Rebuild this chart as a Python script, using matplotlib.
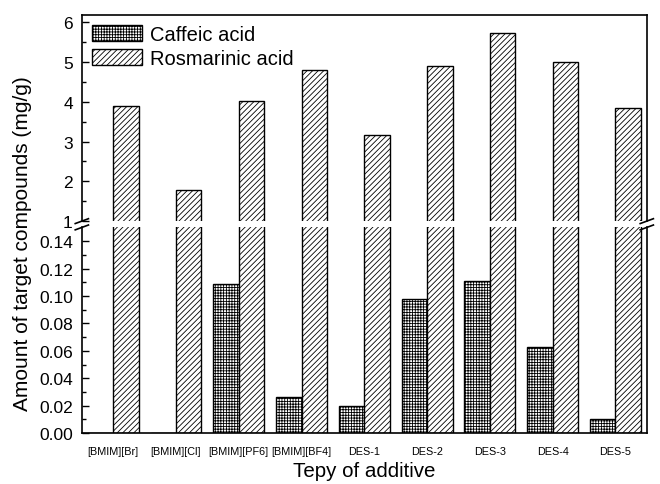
import numpy as np
import matplotlib
matplotlib.use("Agg")
import matplotlib.pyplot as plt
from matplotlib.patches import Patch
from matplotlib.lines import Line2D

plt.rcParams["font.family"] = ["Liberation Sans", "DejaVu Sans"]
plt.rcParams["hatch.linewidth"] = 0.6

additives = ["[BMIM][Br]", "[BMIM][Cl]", "[BMIM][PF6]", "[BMIM][BF4]",
             "DES-1", "DES-2", "DES-3", "DES-4", "DES-5"]
caffeic = [0.0, 0.0, 0.109, 0.0265, 0.020, 0.098, 0.111, 0.0625, 0.0102]
rosmarinic = [3.89, 1.78, 4.01, 4.79, 3.16, 4.89, 5.72, 5.0, 3.84]

x = np.arange(len(additives))
w = 0.405

fig = plt.figure(figsize=(6.6, 4.85), dpi=100)
ax_top = fig.add_axes([0.124, 0.542, 0.856, 0.425])
ax_bot = fig.add_axes([0.124, 0.105, 0.856, 0.424])

for ax in (ax_top, ax_bot):
    ax.bar(x - w / 2, caffeic, w, facecolor="white", edgecolor="black",
           hatch="++++++", linewidth=1.0)
    ax.bar(x + w / 2, rosmarinic, w, facecolor="white", edgecolor="black",
           hatch="//////", linewidth=1.0)
    ax.set_xlim(-0.5, len(additives) - 0.5)
    ax.tick_params(axis="y", direction="in", length=5, width=1, labelsize=12.5, pad=6.5)
    ax.tick_params(axis="y", which="minor", direction="in", length=3, width=1)
    for s in ax.spines.values():
        s.set_linewidth(1.2)

ax_top.set_ylim(1, 6.18)
ax_top.set_yticks([1, 2, 3, 4, 5, 6])
ax_top.set_yticks(np.arange(1.5, 6.1, 1.0), minor=True)
ax_top.spines["bottom"].set_visible(False)
ax_top.tick_params(axis="x", bottom=False, labelbottom=False)

ax_bot.set_ylim(0, 0.15)
ax_bot.set_yticks(np.arange(0, 0.141, 0.02))
ax_bot.set_yticks(np.arange(0.01, 0.15, 0.02), minor=True)
ax_bot.yaxis.set_major_formatter(matplotlib.ticker.FormatStrFormatter("%.2f"))
ax_bot.spines["top"].set_visible(False)
ax_bot.set_xticks(x)
ax_bot.set_xticklabels(additives, fontsize=7.8)
ax_bot.tick_params(axis="x", length=0, pad=9)
ax_bot.set_xlabel("Tepy of additive", fontsize=14.8, labelpad=4)

fig.text(0.034, 0.497, "Amount of target compounds (mg/g)", rotation=90,
         ha="center", va="center", fontsize=15)

# break marks
for xf in (0.124, 0.980):
    for yf in (0.542, 0.529):
        fig.add_artist(Line2D([xf - 0.01, xf + 0.01], [yf - 0.005, yf + 0.005],
                              color="black", linewidth=1.2, transform=fig.transFigure))

handles = [Patch(facecolor="white", edgecolor="black", hatch="++++++"),
           Patch(facecolor="white", edgecolor="black", hatch="//////")]
ax_top.legend(handles, ["Caffeic acid", "Rosmarinic acid"], loc="upper left",
              frameon=False, fontsize=14.5, handlelength=2.5, handleheight=0.8,
              borderaxespad=0.1, labelspacing=0.25, handletextpad=0.4)

fig.savefig("out.png", dpi=100)
